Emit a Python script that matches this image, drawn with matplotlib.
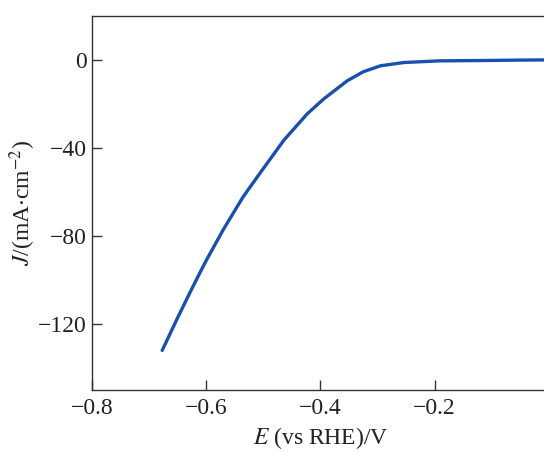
import numpy as np
import matplotlib.pyplot as plt

# LSV polarization curve (potential vs RHE, current density)
potential = [-0.677, -0.651, -0.628, -0.608, -0.599, -0.570, -0.535, -0.502,
             -0.464, -0.423, -0.394, -0.353, -0.325, -0.295, -0.254,
             -0.192, -0.120, -0.050, 0.0]
current = [-132.0, -117.7, -105.5, -95.2, -90.7, -77.1, -62.1, -50.1,
           -36.5, -24.5, -17.7, -9.5, -5.4, -2.7, -1.2,
           -0.45, -0.3, -0.1, 0.0]

xticks = [-0.8, -0.6, -0.4, -0.2, 0.0]
yticks = [0, -40, -80, -120]

plt.rcParams['font.family'] = 'Liberation Serif'
plt.rcParams['mathtext.fontset'] = 'stix'

fig = plt.figure(figsize=(5.44, 4.53), dpi=100)
ax = fig.add_axes([0.169, 0.139, 0.840, 0.826])

ax.plot(potential, current, color='#1b4fae', lw=2.4, solid_capstyle='round')

ax.set_xlim(-0.8, 0.0)
ax.set_ylim(-150, 20)
ax.set_xticks(xticks)
ax.set_xticklabels(['\u22120.8', '\u22120.6', '\u22120.4', '\u22120.2', '0'])
ax.set_yticks(yticks)
ax.set_yticklabels(['0', '\u221240', '\u221280', '\u2212120'])

ax.tick_params(direction='in', length=7, width=1.0, labelsize=17,
               color='#333333', labelcolor='#222222')
ax.tick_params(axis='y', pad=4)
ax.tick_params(axis='x', pad=6)
for s in ax.spines.values():
    s.set_color('#333333')
    s.set_linewidth(1.0)

ax.set_xlabel(r'$E$ (vs RHE)/V', fontsize=17, labelpad=4, color='#222222')
ax.set_ylabel(r'$J$/(mA$\cdot$cm$^{-2}$)', fontsize=17, labelpad=0, color='#222222')

fig.savefig('out.png', dpi=100)
